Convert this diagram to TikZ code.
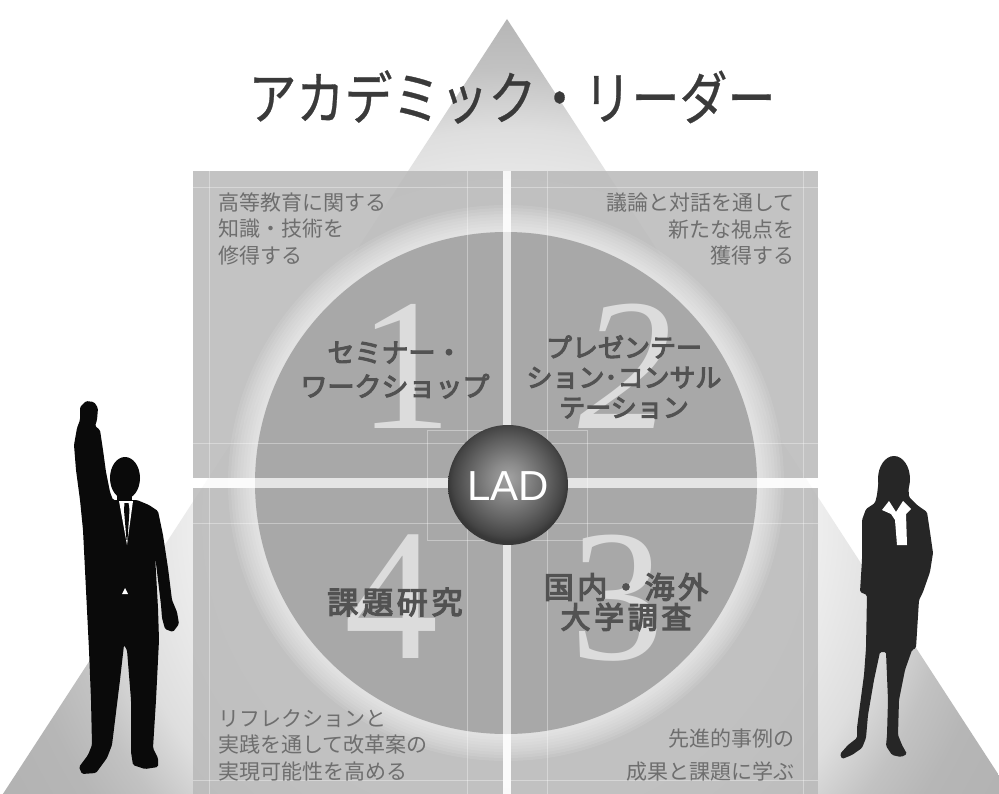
\documentclass[tikz,border=0pt]{standalone}
\usepackage{fontspec}
\usepackage{graphicx}
\newfontfamily\jp{Noto Sans CJK JP}
\newfontfamily\jpt[FakeBold=0.6]{Noto Sans CJK JP}
\newfontfamily\jpb[FakeBold=4]{Noto Sans CJK JP}
\newfontfamily\jpbsp[FakeBold=4,LetterSpace=12]{Noto Sans CJK JP}
\newfontfamily\numfont{Liberation Serif}
\newfontfamily\ladfont{Liberation Sans}

\definecolor{descc}{HTML}{6E6E6E}
\definecolor{labelc}{HTML}{525252}
\definecolor{digitc}{HTML}{DCDCDC}
\definecolor{titlec}{HTML}{3A3A3A}
\definecolor{quadc}{HTML}{B9B9B9}
\definecolor{discc}{HTML}{A8A8A8}
\definecolor{manc}{HTML}{0A0A0A}
\definecolor{womanc}{HTML}{262626}

% pyramid shading (radius of the shaded circle = 25bp)
\definecolor{tA}{HTML}{F0F0F0}
\definecolor{tB}{HTML}{DEDEDE}
\definecolor{tC}{HTML}{C2C2C2}
\definecolor{tD}{HTML}{B6B6B6}
\definecolor{tE}{HTML}{B0B0B0}
\pgfdeclareradialshading{trishade}{\pgfpoint{0bp}{0bp}}{%
  color(0bp)=(white); color(12bp)=(tA); color(15.75bp)=(tB);
  color(18.15bp)=(tC); color(20.15bp)=(tD); color(25bp)=(tE); color(50bp)=(tE)}

% central sphere shading
\definecolor{bA}{HTML}{A2A2A2}
\definecolor{bB}{HTML}{8A8A8A}
\definecolor{bC}{HTML}{606060}
\definecolor{bD}{HTML}{454545}
\definecolor{bE}{HTML}{383838}
\pgfdeclareradialshading{ladball}{\pgfpoint{0bp}{3bp}}{%
  color(0bp)=(bA); color(7bp)=(bB); color(17bp)=(bC);
  color(23bp)=(bD); color(25bp)=(bE); color(50bp)=(bE)}

\tikzset{
  quad/.style={fill=quadc, fill opacity=0.85},
  gridline/.style={draw=white, draw opacity=0.35, line width=0.8pt},
  bar/.style={fill=white, fill opacity=0.7},
  desc/.style={font=\jp\fontsize{21}{26.5}\selectfont, text=descc, inner sep=0pt},
  lbl/.style={font=\jpb\fontsize{27}{34}\selectfont, text=labelc, inner sep=0pt, align=center},
  digit/.style={font=\numfont\fontsize{188}{188}\selectfont, text=digitc, inner sep=0pt},
  ladtext/.style={font=\ladfont\fontsize{42}{42}\selectfont, text=white, inner sep=0pt},
  titletext/.style={font=\jpt\fontsize{48}{48}\selectfont, text=titlec, inner sep=0pt},
}

\begin{document}
\begin{tikzpicture}[x=1pt,y=-1pt]
\useasboundingbox (0,0) rectangle (999,794);
\fill[white] (0,0) rectangle (999,794);

% pyramid
\begin{scope}
  \clip (507,19) -- (1015,800) -- (-1,800) -- cycle;
  \shade[shading=trishade] (507,520) circle[radius=620pt];
\end{scope}

% four quadrant panels
\fill[quad] (193,171) rectangle (503,478);
\fill[quad] (511,171) rectangle (818,478);
\fill[quad] (193,488) rectangle (503,794);
\fill[quad] (511,488) rectangle (818,794);

% soft halo round the disc
\foreach \w in {6,12,...,54}
  \draw[white, opacity=0.09, line width=\w pt] (506,483) circle[radius=251pt];
% disc
\fill[discc] (506,483) circle[radius=251pt];

% faint frame lines
\draw[gridline] (209,171) -- (209,478);
\draw[gridline] (467,171) -- (467,478);
\draw[gridline] (193,187) -- (503,187);
\draw[gridline] (193,443) -- (503,443);
\draw[gridline] (547,171) -- (547,478);
\draw[gridline] (803,171) -- (803,478);
\draw[gridline] (511,187) -- (818,187);
\draw[gridline] (511,443) -- (818,443);
\draw[gridline] (209,488) -- (209,794);
\draw[gridline] (467,488) -- (467,794);
\draw[gridline] (193,523) -- (503,523);
\draw[gridline] (193,780) -- (503,780);
\draw[gridline] (547,488) -- (547,794);
\draw[gridline] (803,488) -- (803,794);
\draw[gridline] (511,523) -- (818,523);
\draw[gridline] (511,780) -- (818,780);
\draw[gridline] (427,430) rectangle (587,540);

% white cross
\fill[bar] (503,171) rectangle (511,794);
\fill[bar] (193,478) rectangle (503,488);
\fill[bar] (511,478) rectangle (818,488);

% large numerals
\node[digit] (d1) at (405,366) {1};
\node[digit] (d2) at (625,366) {\itshape 2};
\node[digit] (d3) at (617,598) {3};
\node[digit] (d4) at (391,597) {4};

% panel texts
\node[desc, anchor=west, align=left] (t1) at (218,228.5)
  {高等教育に関する\\知識・技術を\\修得する};
\node[desc, anchor=east, align=right] (t2) at (795,229.5)
  {議論と対話を通して\\新たな視点を\\獲得する};
\node[desc, anchor=west, align=left] (t4) at (218,745)
  {リフレクションと\\実践を通して改革案の\\実現可能性を高める};
\node[desc, anchor=east, align=right, font=\jp\fontsize{21}{33}\selectfont] (t3) at (795,755)
  {先進的事例の\\成果と課題に学ぶ};

% activity labels
\node[lbl] (l1) at (395,370) {セミナー・\\ワークショップ};
\node[lbl, font=\jpb\fontsize{26}{30}\selectfont] (l2) at (624,377)
  {プレゼンテー\\ション･コンサル\\テーション};
\node[lbl, font=\jpbsp\fontsize{30}{30}\selectfont] (l3) at (626,602)
  {国内・海外\\大学調査};
\node[lbl, font=\jpbsp\fontsize{31}{31}\selectfont] (l4) at (395,602) {課題研究};

% centre sphere
\shade[shading=ladball] (508,485) circle[radius=60pt];
\node[ladtext] (lad) at (508,486) {LAD};

% title
\node[titletext] (title) at (512,97) {\scalebox{1}[1.2]{アカデミック・リーダー}};

% man with raised fist
\fill[manc, rounded corners=1.5pt]
  (80,407) -- (86,401) -- (94,402) -- (98,408) -- (97,420) -- (95,426)
  -- (100,430) -- (103,450) -- (106,472) -- (110,492) -- (113,500)
  -- (137,500) -- (149,505) -- (158,511) -- (163,535) -- (168,568)
  -- (172,600) -- (177,612) -- (179,624) -- (173,632) -- (165,629)
  -- (162,618) -- (161,605) -- (158,580) -- (155,555) -- (158,608)
  -- (159,640) -- (156,700) -- (153,748) -- (158,758) -- (158,767)
  -- (145,769) -- (133,765) -- (131,752) -- (131,700) -- (127,650)
  -- (124,645) -- (120,680) -- (112,745) -- (107,758) -- (96,773)
  -- (82,774) -- (79,767) -- (88,755) -- (92,745) -- (91,700)
  -- (89,650) -- (87,610) -- (85,570) -- (83,530) -- (80,500)
  -- (76,470) -- (74,445) -- (77,428) -- (80,420) -- cycle;
\fill[manc] (125,478) ellipse[x radius=15pt, y radius=21pt];
\fill[manc] (117,488) rectangle (132,503);
\fill[white] (119,501) -- (133,501) -- (127,545) -- cycle;
\fill[manc] (124.5,503) -- (128.5,503) -- (129.5,510) -- (127.5,540)
  -- (126.5,540) -- (124,510) -- cycle;
\fill[white] (122,594) -- (128,594) -- (125,588) -- cycle;

% woman with folded arms
\fill[womanc] (894,479) ellipse[x radius=16pt, y radius=23pt];
\fill[womanc, rounded corners=1.5pt]
  (879,478) -- (877,495) -- (875,503) -- (866,509) -- (862,520)
  -- (862,560) -- (860,592) -- (867,595) -- (866,648) -- (864,675)
  -- (860,705) -- (857,728) -- (857,738) -- (848,745) -- (840,754)
  -- (842,759) -- (852,755) -- (862,748) -- (866,738) -- (868,715)
  -- (874,680) -- (880,652) -- (886,652) -- (888,700) -- (887,735)
  -- (886,746) -- (892,755) -- (901,757) -- (907,754) -- (902,745)
  -- (898,735) -- (899,700) -- (905,670) -- (912,650) -- (916,648)
  -- (919,600) -- (923,592) -- (930,572) -- (933,553) -- (930,532)
  -- (927,512) -- (917,505) -- (909,497) -- (908,478) -- cycle;
% collar and shirt front
\fill[white] (882,510) -- (889,501) -- (896,512) -- (903,501) -- (911,509)
  -- (906,514) -- (907,545) -- (897,545) -- (895,520) -- (891,514) -- cycle;
\end{tikzpicture}
\end{document}
